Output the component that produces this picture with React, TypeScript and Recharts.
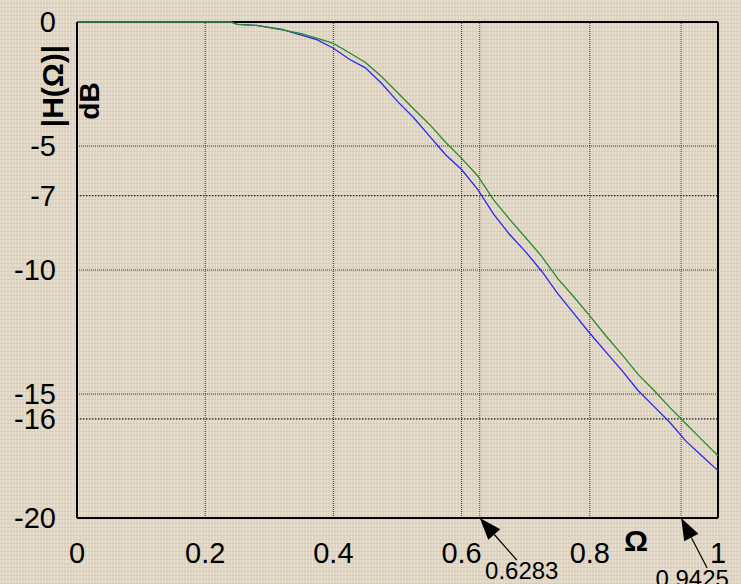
import { LineChart, Line, XAxis, YAxis, ReferenceLine, ReferenceDot } from "recharts";

// frequency axis (normalised Ω) and the two responses in dB
const omega = [
  0, 0.05, 0.1, 0.15, 0.2, 0.24, 0.25, 0.28, 0.32, 0.35, 0.375, 0.4, 0.425, 0.45, 0.475, 0.5,
  0.525, 0.55, 0.575, 0.6, 0.625, 0.65, 0.675, 0.7, 0.725, 0.75, 0.775, 0.8, 0.825, 0.85,
  0.875, 0.9, 0.925, 0.95, 0.975, 1,
];
const blueDb = [
  0, 0, 0, 0, 0, 0, -0.1, -0.14, -0.3, -0.53, -0.72, -1.06, -1.5, -1.85, -2.47, -3.2,
  -3.85, -4.6, -5.35, -5.95, -6.75, -7.75, -8.57, -9.27, -10.05, -10.95, -11.75, -12.55, -13.3, -14.05,
  -14.85, -15.5, -16.15, -16.9, -17.5, -18.09,
];
const greenDb = [
  0, 0, 0, 0, 0, 0, -0.1, -0.14, -0.32, -0.47, -0.66, -0.86, -1.24, -1.63, -2.2, -2.84,
  -3.5, -4.13, -4.85, -5.5, -6.2, -7.17, -7.96, -8.7, -9.45, -10.35, -11.08, -11.85, -12.65, -13.4,
  -14.2, -14.85, -15.55, -16.2, -16.85, -17.49,
];

const xTicks = [0, 0.2, 0.4, 0.6, 0.8, 1];
const yTicks = [0, -5, -7, -10, -15, -16, -20];
const xGrid = [0.2, 0.4, 0.6, 0.8];
const yGrid = [-5, -10, -15];
const yMarks = [-7, -16];
const xMarks = [0.6283, 0.9425];
const markLabels = ["0.6283", "0.9425"];

const data = omega.map((w, i) => ({ omega: w, blue: blueDb[i], green: greenDb[i] }));

const font = "Arial, 'Liberation Sans', sans-serif";

// arrow offsets (tail relative to tip) and label offsets for each marker
const arrowTail = [
  [37, 42],
  [26, 50],
];
const labelPos = [
  [42, 52],
  [11, 60],
];

const makeArrow = (i: number) => (props: any) => {
  const { cx, cy } = props;
  const tx = cx + arrowTail[i][0];
  const ty = cy + arrowTail[i][1];
  const len = Math.hypot(tx - cx, ty - cy);
  const ux = (cx - tx) / len;
  const uy = (cy - ty) / len;
  const L = 22;
  const W = 8;
  const bx = cx - ux * L;
  const by = cy - uy * L;
  const pts = `${cx},${cy} ${bx - uy * W},${by + ux * W} ${bx + uy * W},${by - ux * W}`;
  return (
    <g>
      <line x1={tx} y1={ty} x2={bx} y2={by} stroke="#000" strokeWidth={1.2} />
      <polygon points={pts} fill="#000" />
      <text
        x={cx + labelPos[i][0]}
        y={cy + labelPos[i][1]}
        textAnchor="middle"
        dominantBaseline="central"
        fontSize={24}
        fontFamily={font}
        fill="#000"
      >
        {markLabels[i]}
      </text>
    </g>
  );
};

export default function App() {
  return (
    <div
      style={{
        position: "absolute",
        left: 0,
        top: 0,
        width: 741,
        height: 584,
        backgroundColor: "#E0D6C3",
        backgroundImage:
          "repeating-linear-gradient(90deg, rgba(255,255,255,0.22) 0 1px, transparent 1px 3px), repeating-linear-gradient(0deg, rgba(120,100,70,0.10) 0 1px, transparent 1px 4px)",
        overflow: "hidden",
      }}
    >
      <LineChart width={741} height={584} data={data} margin={{ top: 22, right: 23, bottom: 0, left: 0 }}>
        <XAxis
          dataKey="omega"
          type="number"
          domain={[0, 1]}
          ticks={xTicks}
          interval={0}
          height={66}
          tickLine={false}
          tickMargin={18}
          axisLine={{ stroke: "#000", strokeWidth: 2 }}
          tick={{ fill: "#000", fontSize: 29, fontFamily: font }}
        />
        <YAxis
          type="number"
          domain={[-20, 0]}
          ticks={yTicks}
          interval={0}
          width={77}
          tickLine={false}
          tickMargin={15}
          axisLine={{ stroke: "#000", strokeWidth: 2 }}
          tick={{ fill: "#000", fontSize: 29, fontFamily: font }}
        />
        {xGrid.map((v) => (
          <ReferenceLine key={"xg" + v} x={v} stroke="#333" strokeWidth={1} strokeDasharray="1 1" />
        ))}
        {yGrid.map((v) => (
          <ReferenceLine key={"yg" + v} y={v} stroke="#333" strokeWidth={1} strokeDasharray="1 1" />
        ))}
        {yMarks.map((v) => (
          <ReferenceLine key={"ym" + v} y={v} stroke="#222" strokeWidth={1.2} strokeDasharray="1.5 1.5" />
        ))}
        {xMarks.map((v) => (
          <ReferenceLine key={"xm" + v} x={v} stroke="#2a2aff" strokeWidth={1} strokeDasharray="1 1" />
        ))}
        <ReferenceLine y={0} stroke="#000" strokeWidth={2} />
        <ReferenceLine x={1} stroke="#000" strokeWidth={2} />
        <Line type="linear" dataKey="blue" stroke="#2828f0" strokeWidth={1.3} dot={false} isAnimationActive={false} />
        <Line type="linear" dataKey="green" stroke="#2a8a2a" strokeWidth={1.3} dot={false} isAnimationActive={false} />
        {xMarks.map((v, i) => (
          <ReferenceDot key={"arrow" + v} x={v} y={-20} r={0} shape={makeArrow(i)} />
        ))}
        <text
          x={52}
          y={86}
          transform="rotate(-90 52 86)"
          textAnchor="middle"
          dominantBaseline="central"
          fontSize={30}
          fontWeight="bold"
          fontFamily={font}
          fill="#000"
        >
          |H(Ω)|
        </text>
        <text
          x={89}
          y={101}
          transform="rotate(-90 89 101)"
          textAnchor="middle"
          dominantBaseline="central"
          fontSize={28}
          fontWeight="bold"
          fontFamily={font}
          fill="#000"
        >
          dB
        </text>
        <text
          x={636}
          y={540}
          textAnchor="middle"
          dominantBaseline="central"
          fontSize={30}
          fontWeight="bold"
          fontFamily={font}
          fill="#000"
        >
          Ω
        </text>
      </LineChart>
    </div>
  );
}
